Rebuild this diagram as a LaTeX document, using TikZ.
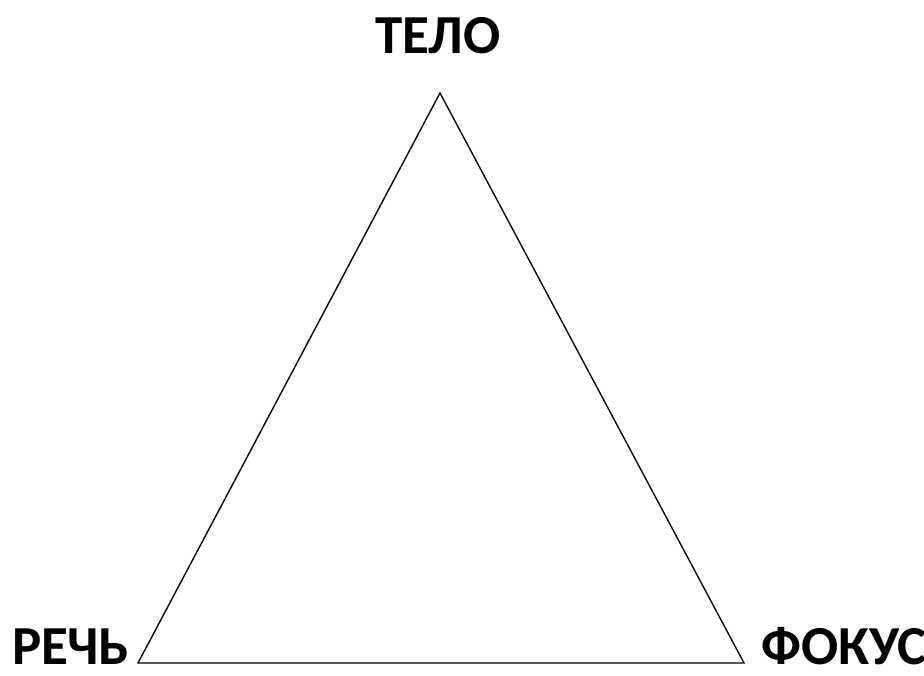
\documentclass[tikz,border=0pt]{standalone}
\usepackage{fontspec}
\setmainfont{Carlito}
\begin{document}
\begin{tikzpicture}[x=1pt,y=-1pt,
  lbl/.style={inner sep=0pt,text depth=0pt,font=\fontsize{55}{55}\selectfont\bfseries}]
\useasboundingbox (0,0) rectangle (924,675);
\coordinate (top) at (440,93);
\coordinate (bl) at (138,663);
\coordinate (br) at (744,663);
\draw[line width=1.4pt,line join=miter] (top) -- (bl) -- (br) -- cycle;
\node[lbl,anchor=base] (telo) at (438,53) {ТЕЛО};
\node[lbl,anchor=base west] (rech) at (12,664) {РЕЧЬ};
\node[lbl,anchor=base west] (fokus) at (761,664) {ФОКУС};
\end{tikzpicture}
\end{document}
